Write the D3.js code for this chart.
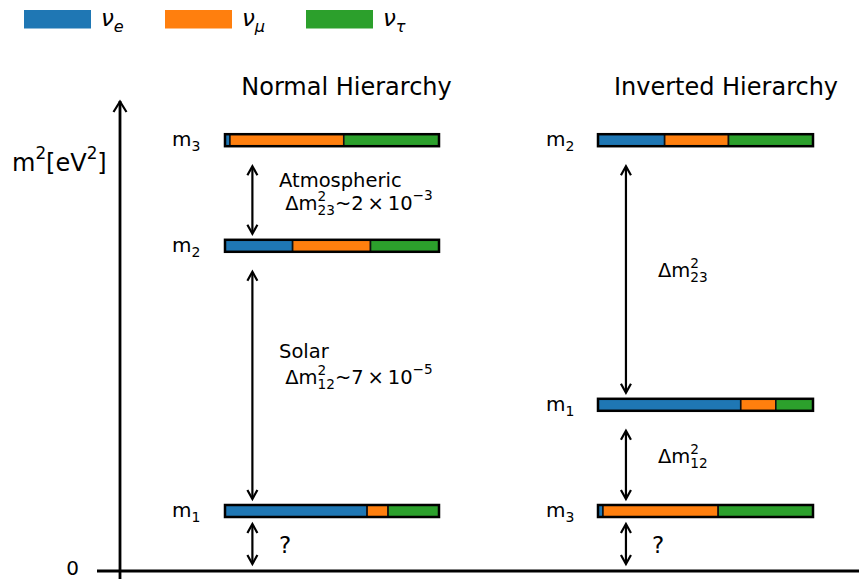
<!DOCTYPE html>
<html>
<head>
<meta charset="utf-8">
<script src="https://cdn.jsdelivr.net/npm/d3@7"></script>
<style>
  html, body { margin: 0; padding: 0; background: #fff; }
  svg { display: block; font-family: "DejaVu Sans", sans-serif; }
</style>
</head>
<body>
<svg id="chart" width="859" height="579"></svg>
<script>
// Flavour legend
const flavourNames = ["e", "μ", "τ"];
const flavourColors = ["#1f77b4", "#ff7f0e", "#2ca02c"];

// Normal hierarchy: mass states, squared-mass levels (schematic units), flavour content
const normalStates = ["1", "2", "3"];
const normalLevels = [1.0, 5.42, 7.18];
const normalNuE   = [0.664, 0.316, 0.023];
const normalNuMu  = [0.098, 0.364, 0.532];
const normalNuTau = [0.238, 0.320, 0.445];

// Inverted hierarchy
const invertedStates = ["3", "1", "2"];
const invertedLevels = [1.0, 2.77, 7.18];
const invertedNuE   = [0.023, 0.664, 0.310];
const invertedNuMu  = [0.536, 0.163, 0.297];
const invertedNuTau = [0.441, 0.173, 0.393];

const panelTitles = ["Normal Hierarchy", "Inverted Hierarchy"];

const svg = d3.select("#chart");
const W = 859, H = 579;

// Vertical scale: squared mass, 0 sits on the horizontal axis
const y = d3.scaleLinear().domain([0, 8]).range([571, 91]);

const FS = 19.5;       // annotation font size

// Renders one line of text with super/subscripts as tspans; returns end x
function mathText(g, x, baseline, parts, size, opts = {}) {
  let cx = x;
  const small = size * 0.7;
  const text = g.append("text").attr("xml:space", "preserve")
    .attr("font-style", opts.italic ? "italic" : null);
  const piece = (str, px, py, fs) => {
    const t = text.append("tspan").attr("x", px).attr("y", py).attr("font-size", fs).text(str);
    return t.node().getComputedTextLength();
  };
  parts.forEach(p => {
    if (p.sup !== undefined || p.sub !== undefined) {
      let w = 0;
      if (p.sup !== undefined) w = Math.max(w, piece(p.sup, cx, baseline - size * (p.high ? 0.5 : 0.45), small));
      if (p.sub !== undefined) w = Math.max(w, piece(p.sub, cx, baseline + size * 0.24, small));
      cx += w;
    } else {
      cx += piece(p.t, cx, baseline, size);
    }
  });
  return cx;
}

// ---------- Legend ----------
const legend = svg.append("g");
const legendX = d3.scaleLinear().domain([0, 1]).range([24, 165]);
flavourNames.forEach((f, i) => {
  const lx = legendX(i);
  legend.append("rect").attr("x", lx).attr("y", 10).attr("width", 67).attr("height", 18.5)
    .attr("fill", flavourColors[i]);
  mathText(legend, lx + 77, 26, [{ t: "ν" }, { sub: f }], 23, { italic: true });
});

// ---------- Axes ----------
const axes = svg.append("g").attr("stroke", "#000").attr("fill", "none").attr("stroke-width", 2.8);
axes.append("line").attr("x1", 97).attr("x2", W).attr("y1", y(0)).attr("y2", y(0));
axes.append("line").attr("x1", 120).attr("x2", 120).attr("y1", H).attr("y2", 101);
axes.append("path").attr("d", "M113.5,112 L120,101.5 L126.5,112").attr("stroke-width", 2.2);

svg.append("text").attr("x", 79).attr("y", 575).attr("text-anchor", "end").attr("font-size", 20).text("0");
mathText(svg, 12, 171, [{ t: "m" }, { sup: "2", high: true }, { t: "[eV" }, { sup: "2", high: true }, { t: "]" }], 24);

// ---------- Panels ----------
const TS = "\u2009"; // thin space around operators
const panels = [
  {
    title: panelTitles[0], titleX: 346.5, range: [225, 439], states: normalStates, levels: normalLevels,
    fractions: [normalNuE, normalNuMu, normalNuTau], labelX: 172, arrowFrac: 0.128,
    gaps: [
      { upper: 2, lower: 1, textX: 279, lines: [
        { b: 187, parts: [{ t: "Atmospheric" }] },
        { b: 210, parts: [{ t: " Δm" }, { sup: "2", sub: "23" }, { t: `~2${TS}×${TS}10` }, { sup: "−3", high: true }] }] },
      { upper: 1, lower: 0, textX: 279, lines: [
        { b: 358, parts: [{ t: "Solar" }] },
        { b: 384, parts: [{ t: " Δm" }, { sup: "2", sub: "12" }, { t: `~7${TS}×${TS}10` }, { sup: "−5", high: true }] }] },
      { upper: 0, lower: null, textX: 279, question: true }
    ]
  },
  {
    title: panelTitles[1], titleX: 726, range: [598, 813], states: invertedStates, levels: invertedLevels,
    fractions: [invertedNuE, invertedNuMu, invertedNuTau], labelX: 546, arrowFrac: 0.13,
    gaps: [
      { upper: 2, lower: 1, textX: 658, lines: [
        { b: 277, parts: [{ t: "Δm" }, { sup: "2", sub: "23" }] }] },
      { upper: 1, lower: 0, textX: 658, lines: [
        { b: 463, parts: [{ t: "Δm" }, { sup: "2", sub: "12" }] }] },
      { upper: 0, lower: null, textX: 652, question: true }
    ]
  }
];

function doubleArrow(g, x, y1, y2) {
  g.append("line").attr("x1", x).attr("x2", x).attr("y1", y1 + 1).attr("y2", y2 - 1);
  g.append("path").attr("d", `M${x - 5},${y1 + 9} L${x},${y1} L${x + 5},${y1 + 9}`);
  g.append("path").attr("d", `M${x - 5},${y2 - 9} L${x},${y2} L${x + 5},${y2 - 9}`);
}

const BAR_H = 12;

panels.forEach(p => {
  const x = d3.scaleLinear().domain([0, 1]).range(p.range);
  const g = svg.append("g");

  g.append("text").attr("x", p.titleX).attr("y", 95)
    .attr("text-anchor", "middle").attr("font-size", 24).text(p.title);

  p.states.forEach((s, i) => {
    const yc = y(p.levels[i]);
    // stacked flavour segments
    let acc = 0;
    p.fractions.forEach((fr, k) => {
      g.append("rect").attr("x", x(acc)).attr("y", yc - BAR_H / 2)
        .attr("width", x(acc + fr[i]) - x(acc)).attr("height", BAR_H)
        .attr("fill", flavourColors[k]).attr("stroke", "#111").attr("stroke-width", 1.6);
      acc += fr[i];
    });
    g.append("rect").attr("x", x(0)).attr("y", yc - BAR_H / 2)
      .attr("width", x(1) - x(0)).attr("height", BAR_H)
      .attr("fill", "none").attr("stroke", "#000").attr("stroke-width", 2.5);

    mathText(g, p.labelX, yc + 6, [{ t: "m" }, { sub: s }], 20);
  });

  const ag = g.append("g").attr("stroke", "#000").attr("stroke-width", 2.2).attr("fill", "none");
  const ax = x(p.arrowFrac);
  p.gaps.forEach(gp => {
    const top = y(p.levels[gp.upper]) + (gp.lower === null ? 13 : 26);
    const bottom = gp.lower === null ? y(0) - 7 : y(p.levels[gp.lower]) - 12;
    doubleArrow(ag, ax, top, bottom);
    if (gp.question) {
      g.append("text").attr("x", gp.textX).attr("y", (top + bottom) / 2 + 8.5)
        .attr("font-size", 23).text("?");
    } else {
      gp.lines.forEach(l => mathText(g, gp.textX, l.b, l.parts, FS));
    }
  });
});
</script>
</body>
</html>
